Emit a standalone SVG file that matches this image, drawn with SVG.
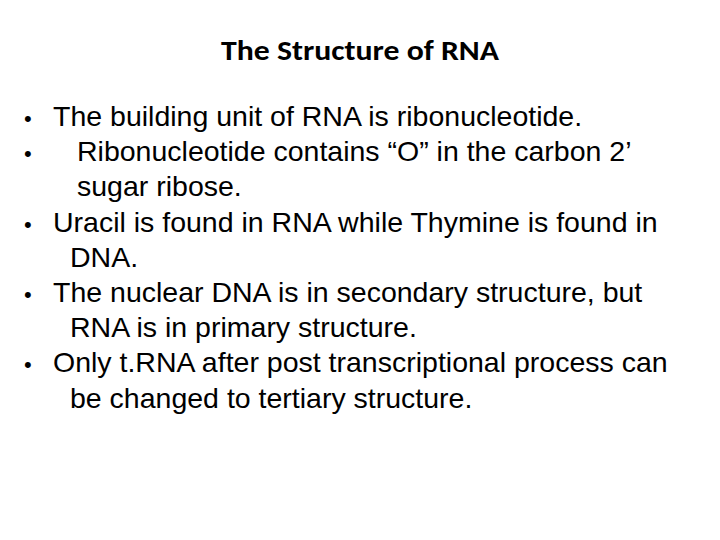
<svg xmlns="http://www.w3.org/2000/svg" width="720" height="540" viewBox="0 0 720 540">
<style>
.t{font-family:"Liberation Sans",Arial,sans-serif;font-size:28.5px;fill:#000}
.b{font-family:"Liberation Sans",Arial,sans-serif;font-size:22px;fill:#000}
.h{font-family:"Carlito","Open Sans","Liberation Sans",sans-serif;font-size:29px;font-weight:600;fill:#000}
</style>
<rect width="720" height="540" fill="#fff"/>
<g id="title"><text class="h" x="360" y="60" text-anchor="middle" textLength="278" lengthAdjust="spacingAndGlyphs">The Structure of RNA</text></g>
<g id="body">
<text class="b" x="24" y="126">•</text><text class="t" x="53" y="126">The building unit of RNA is ribonucleotide.</text>
<text class="b" x="24" y="161">•</text><text class="t" x="77" y="161">Ribonucleotide contains “O” in the carbon 2’</text>
<text class="t" x="77" y="196">sugar ribose.</text>
<text class="b" x="24" y="232">•</text><text class="t" x="53" y="232">Uracil is found in RNA while Thymine is found in</text>
<text class="t" x="70" y="267">DNA.</text>
<text class="b" x="24" y="302">•</text><text class="t" x="53" y="302">The nuclear DNA is in secondary structure, but</text>
<text class="t" x="70" y="337">RNA is in primary structure.</text>
<text class="b" x="24" y="372">•</text><text class="t" x="53" y="372">Only t.RNA after post transcriptional process can</text>
<text class="t" x="70" y="408">be changed to tertiary structure.</text>
</g>
</svg>
